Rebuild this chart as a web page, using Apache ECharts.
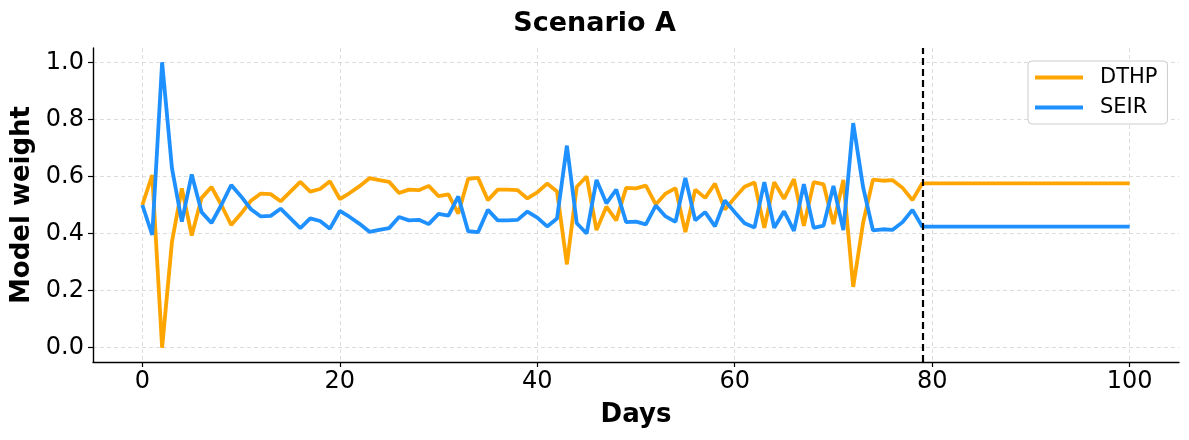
<!DOCTYPE html>
<html>
<head>
<meta charset="utf-8">
<script src="https://cdn.jsdelivr.net/npm/echarts@6/dist/echarts.min.js"></script>
<style>html,body{margin:0;padding:0;background:#fff;}#c{width:1189px;height:440px;}</style>
</head>
<body>
<div id="c"></div>
<script>
const title = 'Scenario A';
const xName = 'Days';
const yName = 'Model weight';
const seriesNames = ['DTHP', 'SEIR'];
const xTicks = [0, 20, 40, 60, 80, 100];
const yTicks = [0.0, 0.2, 0.4, 0.6, 0.8, 1.0];
const cutoffDay = 79;
const dthp = [0.500,0.605,0.000,0.372,0.558,0.393,0.525,0.563,0.500,0.430,
  0.470,0.515,0.540,0.538,0.513,0.547,0.581,0.547,0.556,0.583,
  0.521,0.542,0.566,0.594,0.587,0.581,0.542,0.554,0.552,0.567,
  0.531,0.537,0.470,0.592,0.595,0.517,0.554,0.554,0.552,0.523,
  0.544,0.575,0.547,0.292,0.564,0.600,0.412,0.494,0.446,0.560,
  0.558,0.568,0.502,0.540,0.559,0.405,0.554,0.525,0.575,0.484,
  0.525,0.564,0.579,0.420,0.580,0.522,0.591,0.427,0.580,0.572,
  0.433,0.588,0.213,0.437,0.589,0.585,0.587,0.560,0.517,0.576,
  0.576,0.576,0.576,0.576,0.576,0.576,0.576,0.576,0.576,0.576,
  0.576,0.576,0.576,0.576,0.576,0.576,0.576,0.576,0.576,0.576,0.576];
const seir = [0.500,0.395,1.000,0.628,0.442,0.607,0.475,0.437,0.500,0.570,
  0.530,0.485,0.460,0.462,0.487,0.453,0.419,0.453,0.444,0.417,
  0.479,0.458,0.434,0.406,0.413,0.419,0.458,0.446,0.448,0.433,
  0.469,0.463,0.530,0.408,0.405,0.483,0.446,0.446,0.448,0.477,
  0.456,0.425,0.453,0.708,0.436,0.400,0.588,0.506,0.554,0.440,
  0.442,0.432,0.498,0.460,0.441,0.595,0.446,0.475,0.425,0.516,
  0.475,0.436,0.421,0.580,0.420,0.478,0.409,0.573,0.420,0.428,
  0.567,0.412,0.787,0.563,0.411,0.415,0.413,0.440,0.483,0.424,
  0.424,0.424,0.424,0.424,0.424,0.424,0.424,0.424,0.424,0.424,
  0.424,0.424,0.424,0.424,0.424,0.424,0.424,0.424,0.424,0.424,0.424];
const days = dthp.map((_, i) => i);

const FONT = 'DejaVu Sans';
const chart = echarts.init(document.getElementById('c'), null, {renderer: 'canvas'});
const gridLine = {show: true, lineStyle: {color: '#d3d3d3', type: [4, 3], width: 0.8}};
chart.setOption({
  animation: false,
  backgroundColor: '#fff',
  title: {text: title, left: 'center', top: 5,
    textStyle: {fontFamily: FONT, fontSize: 27, fontWeight: 'bold', color: '#000'}},
  grid: {left: 93, right: 10, top: 48, bottom: 78, containLabel: false, outerBoundsMode: 'none'},
  legend: {
    data: seriesNames, orient: 'vertical', left: 1028, top: 61,
    backgroundColor: '#fff', borderColor: '#cccccc', borderWidth: 1, borderRadius: 4,
    padding: [6, 10, 6, 7], itemWidth: 48, itemHeight: 4, itemGap: 9,
    icon: 'rect',
    textStyle: {fontFamily: FONT, fontSize: 21, color: '#000', padding: [0, 0, 0, 12]}
  },
  xAxis: {
    type: 'value', min: -5, max: 105,
    name: xName, nameLocation: 'middle', nameGap: 40,
    nameTextStyle: {fontFamily: FONT, fontSize: 26, fontWeight: 'bold', color: '#000'},
    axisLine: {show: true, onZero: false, lineStyle: {color: '#000', width: 1.4}},
    axisTick: {show: true, length: 5, customValues: xTicks, lineStyle: {color: '#000', width: 1.2}},
    axisLabel: {customValues: xTicks, fontFamily: FONT, fontSize: 24, color: '#000', margin: 8},
    splitLine: gridLine
  },
  yAxis: {
    type: 'value', min: -0.05, max: 1.05,
    name: yName, nameLocation: 'middle', nameGap: 57, nameRotate: 90,
    nameTextStyle: {fontFamily: FONT, fontSize: 26, fontWeight: 'bold', color: '#000'},
    axisLine: {show: true, onZero: false, lineStyle: {color: '#000', width: 1.4}},
    axisTick: {show: true, length: 5, customValues: yTicks, lineStyle: {color: '#000', width: 1.2}},
    axisLabel: {customValues: yTicks, fontFamily: FONT, fontSize: 24, color: '#000', margin: 9,
      formatter: v => v.toFixed(1)},
    splitLine: gridLine
  },
  series: [
    {name: seriesNames[0], type: 'line', data: days.map((d, i) => [d, dthp[i]]),
      showSymbol: false, color: '#FFA500', lineStyle: {width: 3.8, color: '#FFA500'},
      markLine: {silent: true, symbol: 'none', label: {show: false},
        lineStyle: {color: '#000', type: [7, 4], width: 2.2},
        data: [{xAxis: cutoffDay}]}},
    {name: seriesNames[1], type: 'line', data: days.map((d, i) => [d, seir[i]]),
      showSymbol: false, color: '#1E90FF', lineStyle: {width: 3.8, color: '#1E90FF'}}
  ]
});
</script>
</body>
</html>
